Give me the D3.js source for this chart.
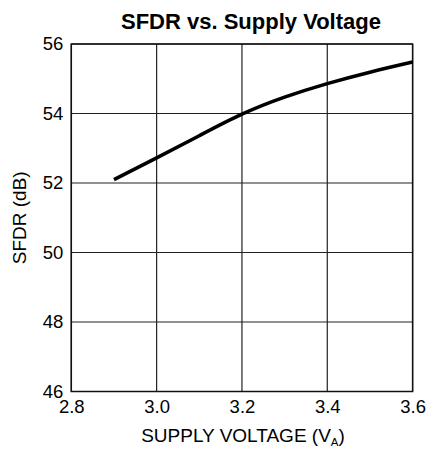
<!DOCTYPE html>
<html><head><meta charset="utf-8">
<script src="https://cdn.jsdelivr.net/npm/d3@7"></script>
<style>html,body{margin:0;padding:0;background:#fff;}svg{display:block;font-family:"Liberation Sans",Arial,sans-serif;}</style>
</head><body>
<svg id="chart" width="427" height="449"></svg>
<script>
const voltage = [2.9, 3.0, 3.1, 3.2, 3.3, 3.4, 3.5, 3.6];
const sfdr    = [52.1, 52.72, 53.36, 53.98, 54.47, 54.86, 55.19, 55.48];
const xTicks = [2.8, 3.0, 3.2, 3.4, 3.6];
const yTicks = [46, 48, 50, 52, 54, 56];
const titleText = "SFDR vs. Supply Voltage";
const yLabel = "SFDR (dB)";

const svg = d3.select("#chart");
const m = {left: 71.3, right: 412.6, top: 44, bottom: 391.5};
const x = d3.scaleLinear().domain([2.8, 3.6]).range([m.left, m.right]);
const y = d3.scaleLinear().domain([46, 56]).range([m.bottom, m.top]);

// grid
const g = svg.append("g");
g.selectAll("line.v").data(xTicks).join("line")
  .attr("x1", d => x(d)).attr("x2", d => x(d))
  .attr("y1", m.top).attr("y2", m.bottom)
  .attr("stroke", "#222").attr("stroke-width", 1.2);
g.selectAll("line.h").data(yTicks).join("line")
  .attr("x1", m.left).attr("x2", m.right)
  .attr("y1", d => y(d)).attr("y2", d => y(d))
  .attr("stroke", "#222").attr("stroke-width", 1.2);
g.append("rect").attr("x", m.left).attr("y", m.top)
  .attr("width", m.right - m.left).attr("height", m.bottom - m.top)
  .attr("fill", "none").attr("stroke", "#111").attr("stroke-width", 1.5);

// axes labels via d3 axes (domain/ticks hidden)
const xAxis = svg.append("g").attr("transform", `translate(0,${m.bottom})`)
  .call(d3.axisBottom(x).tickValues(xTicks).tickFormat(d3.format(".1f")).tickSize(0).tickPadding(8));
const yAxis = svg.append("g").attr("transform", `translate(${m.left},0)`)
  .call(d3.axisLeft(y).tickValues(yTicks).tickFormat(d3.format("d")).tickSize(0).tickPadding(8));
[xAxis, yAxis].forEach(a => {
  a.select(".domain").remove();
  a.selectAll("text").attr("font-size", 18.5).attr("fill", "#000")
    .attr("font-family", "'Liberation Sans', Arial, sans-serif");
});

// curve
const line = d3.line().x((d, i) => x(voltage[i])).y(d => y(d)).curve(d3.curveNatural);
svg.append("path").datum(sfdr).attr("d", line)
  .attr("fill", "none").attr("stroke", "#000").attr("stroke-width", 3.6)
  .attr("stroke-linecap", "butt");

// title
svg.append("text").attr("x", 251).attr("y", 29).attr("text-anchor", "middle")
  .attr("font-size", 22).attr("font-weight", "bold").text(titleText);

// x label
const xl = svg.append("text").attr("x", 243).attr("y", 442).attr("text-anchor", "middle")
  .attr("font-size", 19);
xl.append("tspan").text("SUPPLY VOLTAGE (V");
xl.append("tspan").attr("font-size", 11.5).attr("dy", 4).text("A");
xl.append("tspan").attr("dy", -4).text(")");

// y label
svg.append("text").attr("transform", `translate(26,${(m.top + m.bottom) / 2}) rotate(-90)`)
  .attr("text-anchor", "middle").attr("font-size", 19).text(yLabel);
</script>
</body></html>
